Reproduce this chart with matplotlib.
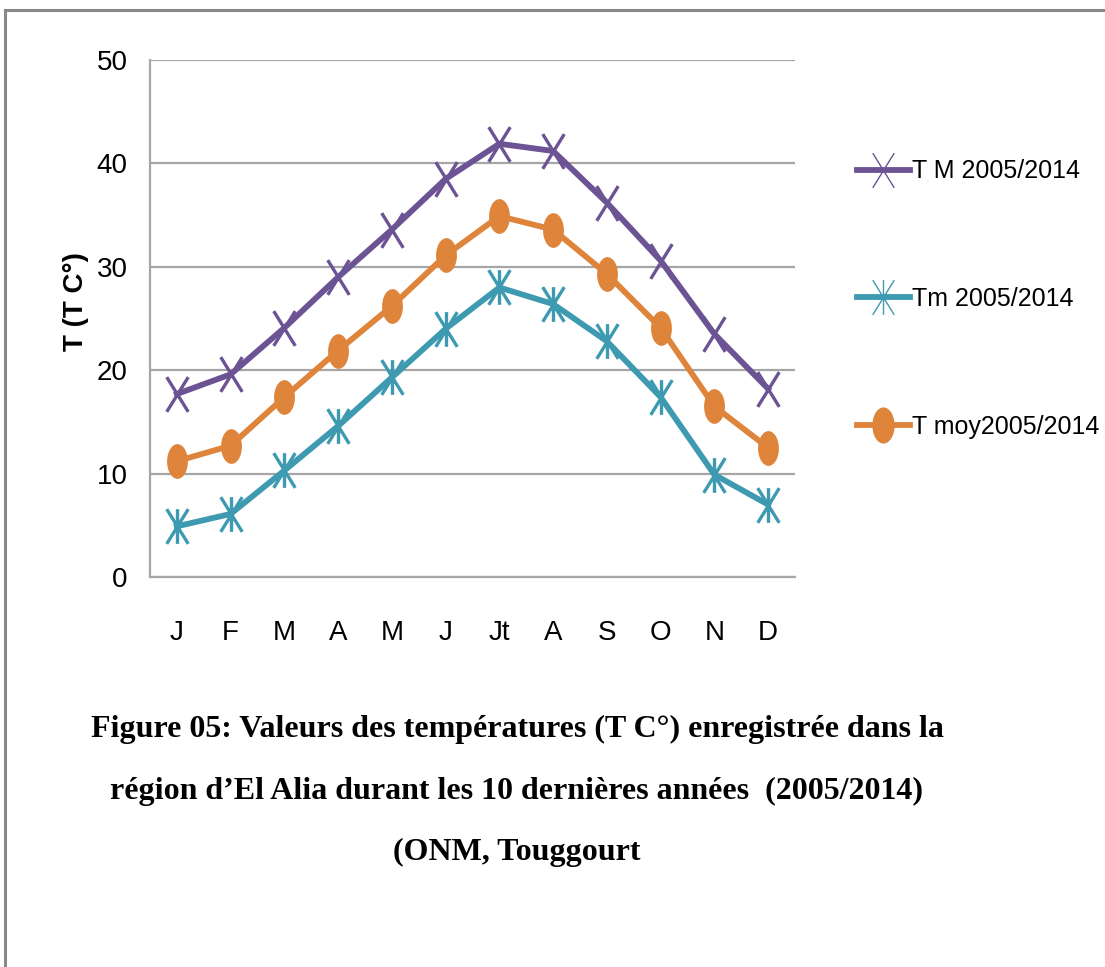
import matplotlib
matplotlib.use("Agg")
import matplotlib.pyplot as plt
from matplotlib.path import Path
from matplotlib.lines import Line2D
import numpy as np

months = ["J", "F", "M", "A", "M", "J", "Jt", "A", "S", "O", "N", "D"]
t_max = [17.7, 19.6, 24.1, 29.0, 33.6, 38.5, 41.9, 41.2, 36.2, 30.6, 23.5, 18.2]
t_min = [4.9, 6.1, 10.3, 14.6, 19.3, 24.0, 28.0, 26.4, 22.8, 17.4, 9.9, 7.0]
t_moy = [11.2, 12.7, 17.4, 21.9, 26.2, 31.1, 34.9, 33.6, 29.3, 24.1, 16.5, 12.5]
labels = ["T M 2005/2014", "Tm 2005/2014", "T moy2005/2014"]
y_ticks = [0, 10, 20, 30, 40, 50]

caption = ("Figure 05: Valeurs des températures (T C°) enregistrée dans la\n"
           "région d\u2019El Alia durant les 10 dernières années  (2005/2014)\n"
           "(ONM, Touggourt")

c_max = "#6C5394"
c_min = "#3D9AB0"
c_moy = "#DE843B"

sans = ["Liberation Sans Narrow", "Liberation Sans", "DejaVu Sans"]

# custom tall markers (image is vertically stretched)
a = 0.62
x_marker = Path([(-0.5 * a, -0.5), (0.5 * a, 0.5), (-0.5 * a, 0.5), (0.5 * a, -0.5)],
                [Path.MOVETO, Path.LINETO, Path.MOVETO, Path.LINETO])
star_marker = Path([(-0.5 * a, -0.5), (0.5 * a, 0.5), (-0.5 * a, 0.5), (0.5 * a, -0.5),
                    (0, -0.5), (0, 0.5)],
                   [Path.MOVETO, Path.LINETO, Path.MOVETO, Path.LINETO, Path.MOVETO, Path.LINETO])
circ = Path.unit_circle()
ell_marker = Path(circ.vertices * np.array([0.6, 1.0]), circ.codes)

fig = plt.figure(figsize=(11.05, 9.67), dpi=100)
ax = fig.add_axes([150 / 1105, 1 - 577 / 967, 645 / 1105, 517 / 967])

x = np.arange(len(months))
ax.plot(x, t_max, color=c_max, lw=4.2, marker=x_marker, ms=25, mew=2.4,
        mec=c_max, mfc="none", label=labels[0], zorder=4)
ax.plot(x, t_min, color=c_min, lw=4.2, marker=star_marker, ms=25, mew=2.4,
        mec=c_min, mfc="none", label=labels[1], zorder=4)
ax.plot(x, t_moy, color=c_moy, lw=4.2, marker=ell_marker, ms=25, mew=0,
        mfc=c_moy, mec=c_moy, label=labels[2], zorder=4)

ax.set_xlim(-0.5, len(months) - 0.5)
ax.set_ylim(0, 50)
ax.set_yticks(y_ticks)
ax.set_xticks(x)
ax.set_xticklabels(months, fontfamily=sans, fontsize=20)
ax.set_yticklabels([str(v) for v in y_ticks], fontfamily=sans, fontsize=20)
ax.tick_params(axis="both", length=0)
ax.tick_params(axis="y", pad=16)
ax.tick_params(axis="x", pad=31)
ax.yaxis.grid(True, color="#A6A6A6", lw=1.6)
ax.set_axisbelow(True)
for s in ["top", "right"]:
    ax.spines[s].set_visible(False)
for s in ["left", "bottom"]:
    ax.spines[s].set_color("#A6A6A6")
    ax.spines[s].set_linewidth(1.6)

fig.text(76 / 1105, 1 - 302 / 967, "T (T C°)", rotation=90, ha="center", va="center",
         fontsize=20, fontweight="bold", family=["Liberation Sans", "DejaVu Sans"])

leg = ax.legend(loc="center left", bbox_to_anchor=(857 / 1105, 1 - 299 / 967),
                bbox_transform=fig.transFigure, frameon=False, borderpad=0,
                borderaxespad=0, handlelength=2.1, handletextpad=0.1,
                labelspacing=4.15, prop={"family": sans, "size": 18})
for h in leg.legend_handles:
    h.set_markeredgewidth(1.0)

fig.text(517 / 1105, 1 - 791 / 967, caption, ha="center", va="center",
         fontsize=23, fontweight="bold", family=["Liberation Serif", "DejaVu Serif"],
         linespacing=2.45)

# outer border (top and left)
fig.add_artist(Line2D([5 / 1105, 1.0], [1 - 10 / 967, 1 - 10 / 967],
                      transform=fig.transFigure, color="#888888", lw=2.2))
fig.add_artist(Line2D([5 / 1105, 5 / 1105], [1 - 10 / 967, 0],
                      transform=fig.transFigure, color="#888888", lw=2.2))

fig.savefig("out.png", dpi=100)
